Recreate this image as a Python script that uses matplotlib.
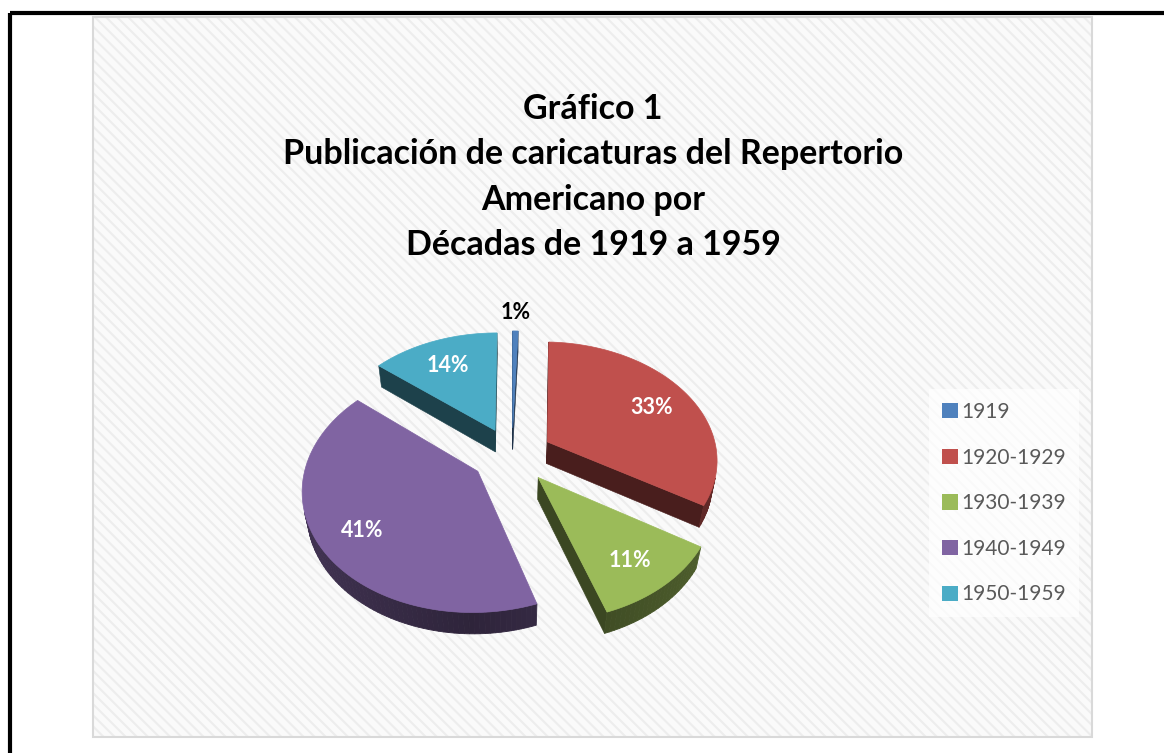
import numpy as np
import matplotlib
matplotlib.use("Agg")
import matplotlib.pyplot as plt
from matplotlib.patches import Polygon, Rectangle, Patch
from matplotlib.colors import to_rgb

# datos del grafico
decadas = ["1919", "1920-1929", "1930-1939", "1940-1949", "1950-1959"]
porcentajes = [0.6, 33, 11, 41, 14]
colores = ["#4F81BD", "#C0504D", "#9BBB59", "#8064A2", "#4BACC6"]
titulo = ["Gráfico 1",
          "Publicación de caricaturas del Repertorio",
          "Americano por",
          "Décadas de 1919 a 1959"]

W, H = 1164, 753
plt.rcParams['font.family'] = ['Lato', 'DejaVu Sans']
plt.rcParams['hatch.linewidth'] = 1.5

fig = plt.figure(figsize=(W / 100, H / 100), dpi=100)
ax = fig.add_axes([0, 0, 1, 1])
ax.set_xlim(0, W)
ax.set_ylim(H, 0)
ax.axis('off')

# marco y fondo rayado
ax.add_patch(Rectangle((93, 17), 999, 720, facecolor='#FAFAFA', edgecolor='#EDEDED',
                       lw=0, hatch='\\\\\\'))
ax.add_patch(Rectangle((93, 17), 999, 720, facecolor='none', edgecolor='#D9D9D9', lw=1.5))
ax.plot([9.5, W], [13, 13], color='black', lw=3, solid_capstyle='butt')
ax.plot([9.5, 9.5], [13, H], color='black', lw=3, solid_capstyle='butt')

# titulo
for i, linea in enumerate(titulo):
    ax.text(593, 119 + 45.3 * i, linea, ha='center', va='baseline',
            fontsize=24.5, fontweight='bold', color='black')

# --- pastel 3D con perspectiva ---
cx, cy, R = 512, 455, 170
elev = np.radians(43.5)
D = 5.3
h = 0.18
ex = 0.24
cam = np.array([0.0, -D * np.cos(elev), D * np.sin(elev)])


def proy(x, y, z):
    depth = y * np.cos(elev) - z * np.sin(elev)
    s = D / (D + depth)
    return cx + x * s * R, cy - (y * np.sin(elev) + z * np.cos(elev)) * s * R


def sombra(color, f):
    r, g, b = to_rgb(color)
    return (r * f, g * f, b * f)


def visible(normal, p):
    return np.dot(normal, cam - p) > 0


share = np.array(porcentajes) / sum(porcentajes) * 100
fin = 90 - 3.6 * np.cumsum(share)
ini = fin + 3.6 * share
medio = np.radians((fin + ini) / 2)

orden = np.argsort(-np.sin(medio))
for i in orden:
    a1, a2 = np.radians(fin[i]), np.radians(ini[i])
    m = medio[i]
    ox, oy = ex * np.cos(m), ex * np.sin(m)
    col = colores[i]
    n = max(int(np.degrees(a2 - a1) / 1.5), 3)
    t = np.linspace(a1, a2, n)

    # caras radiales
    for a, nrm in ((a1, np.array([np.sin(a1), -np.cos(a1), 0])),
                   (a2, np.array([-np.sin(a2), np.cos(a2), 0]))):
        p = np.array([ox + 0.5 * np.cos(a), oy + 0.5 * np.sin(a), -h / 2])
        if visible(nrm, p):
            pts = [proy(ox, oy, 0), proy(ox + np.cos(a), oy + np.sin(a), 0),
                   proy(ox + np.cos(a), oy + np.sin(a), -h), proy(ox, oy, -h)]
            ax.add_patch(Polygon(pts, closed=True, facecolor=sombra(col, 0.38),
                                 edgecolor=sombra(col, 0.38), lw=0.4))

    # borde exterior
    for j in range(n - 1):
        tm = (t[j] + t[j + 1]) / 2
        p = np.array([ox + np.cos(tm), oy + np.sin(tm), -h / 2])
        if visible(np.array([np.cos(tm), np.sin(tm), 0]), p):
            f = 0.36 + 0.16 * abs(np.cos(tm))
            pts = [proy(ox + np.cos(t[j]), oy + np.sin(t[j]), 0),
                   proy(ox + np.cos(t[j + 1]), oy + np.sin(t[j + 1]), 0),
                   proy(ox + np.cos(t[j + 1]), oy + np.sin(t[j + 1]), -h),
                   proy(ox + np.cos(t[j]), oy + np.sin(t[j]), -h)]
            ax.add_patch(Polygon(pts, closed=True, facecolor=sombra(col, f),
                                 edgecolor=sombra(col, f), lw=0.6))

    # cara superior
    top = [proy(ox, oy, 0)] + [proy(ox + np.cos(a), oy + np.sin(a), 0) for a in t]
    ax.add_patch(Polygon(top, closed=True, facecolor=col, edgecolor=col, lw=0.5))

# etiquetas de porcentaje
for i in range(len(decadas)):
    m = medio[i]
    ox, oy = ex * np.cos(m), ex * np.sin(m)
    txt = f"{round(share[i])}%"
    if share[i] < 3:
        x, y = proy(ox + 1.22 * np.cos(m), oy + 1.22 * np.sin(m), 0)
        ax.text(x, y, txt, ha='center', va='center', fontsize=15.5,
                fontweight='bold', color='black')
    else:
        x, y = proy(ox + 0.75 * np.cos(m), oy + 0.75 * np.sin(m), 0)
        ax.text(x, y + 4, txt, ha='center', va='center', fontsize=15.5,
                fontweight='bold', color='white')

# leyenda
handles = [Patch(facecolor=c, edgecolor='none') for c in colores]
leg = ax.legend(handles, decadas, loc='upper left',
                bbox_to_anchor=(919 / W, 1 - 379 / H), frameon=True, fontsize=15,
                labelcolor='#595959', handlelength=0.75, handleheight=0.75,
                handletextpad=0.2, labelspacing=1.23, borderpad=0.6)
leg.get_frame().set_facecolor('white')
leg.get_frame().set_alpha(0.7)
leg.get_frame().set_edgecolor('none')
leg.get_frame().set_boxstyle('square', pad=0)

fig.savefig("out.png", dpi=100)
